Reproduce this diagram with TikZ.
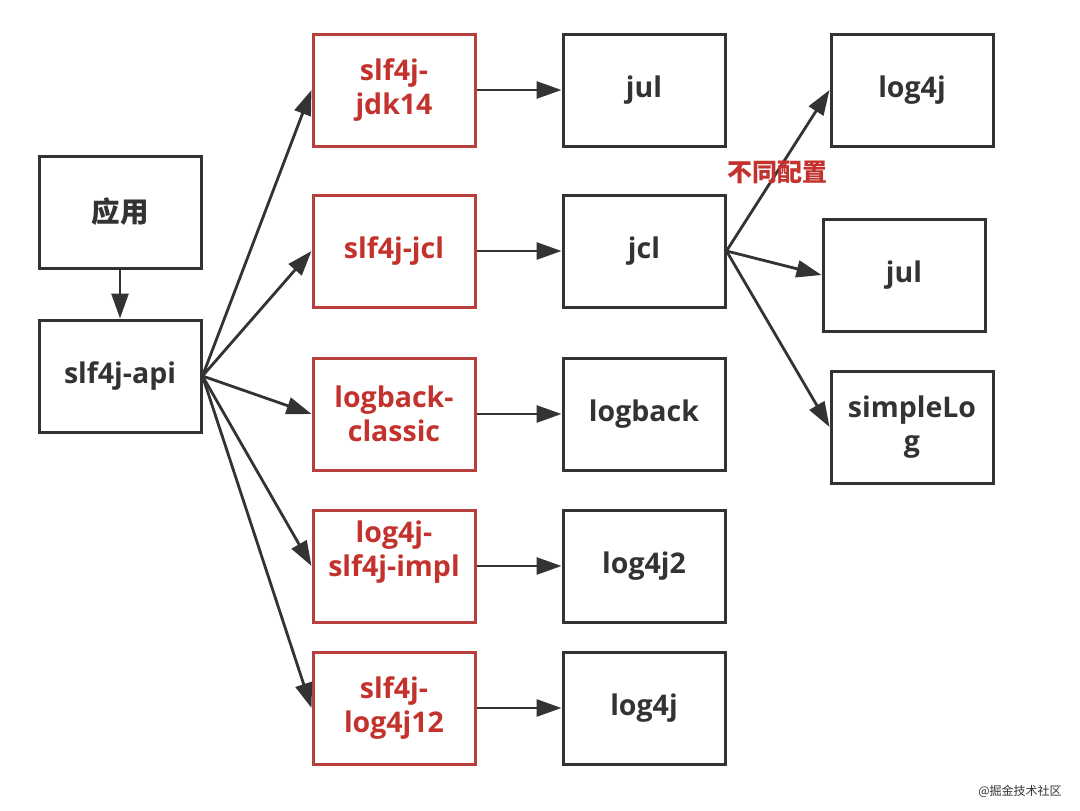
\documentclass[tikz,border=0pt]{standalone}
\usepackage{fontspec}
\setmainfont{Open Sans}
\newfontfamily\cjk{Noto Sans CJK SC}
\usepackage{xcolor}
\usepackage{tikz}
\usetikzlibrary{arrows.meta}

\definecolor{ink}{HTML}{333333}
\definecolor{redline}{HTML}{B8403C}
\definecolor{redtext}{HTML}{C3322D}

\tikzset{
  box/.style={rectangle, draw=ink, line width=3pt, minimum width=162pt, minimum height=112pt,
    inner sep=0pt, align=center, font=\fontsize{28.5}{34}\selectfont\bfseries, text=ink},
  redbox/.style={box, draw=redline, text=redtext},
  arr/.style={draw=ink, line width=2.8pt, -{Triangle[length=25pt,width=17pt]}}
}

\begin{document}
\begin{tikzpicture}[x=1pt, y=-1pt]
                            \useasboundingbox[fill=white] (0,0) rectangle (1080,811);
                            % Nodes
                            \node[box] (app) at (120,212) {\cjk\bfseries 应用};
                            \node[box] (api) at (120,376) {slf4j-api};
                            \foreach \n/\j/\k/\t in {jdk/394/90/{slf4j-\\jdk14}, jclb/394/251/{slf4j-jcl},
                                lbc/394/414/{logback-\\classic}, impl/394/566/{log4j-\\slf4j-impl\\~},
                                ltw/394/708/{slf4j-\\log4j12}} {
                              \node[redbox] (\n) at (\j,\k) {\t};
                            }
                            \foreach \n/\j/\k/\t in {jul/644/90/jul, jcl/644/251/jcl, lb/644/414/logback,
                                lfjt/644/566/log4j2, lfj/644/708/log4j, rlfj/912/90/log4j,
                                rjul/904/275/jul, simple/912/427/{simpleLo\\g}} {
                              \node[box] (\n) at (\j,\k) {\t};
                            }
                            % Edges
                            \draw[arr] (app) -- (api);
                            \foreach \i/\j in {jdk/jul, jclb/jcl, lbc/lb, impl/lfjt, ltw/lfj} {
                                \draw[arr] (api.east) -- (\i.west);
                                \draw[arr] (\i.east) -- (\j.west);
                            }
                            \foreach \i in {rlfj, rjul, simple} {
                                \draw[arr] (jcl.east) -- (\i.west);
                            }
                            % Label
                            \node[draw=none, fill=none, text=redtext, font=\cjk\fontsize{25}{28}\selectfont\bfseries] (cfg) at (777,172) {不同配置};
                            \node[draw=none, fill=none, text=ink, font=\cjk\fontsize{12}{14}\selectfont] (mark) at (1020,791) {@掘金技术社区};
                        \end{tikzpicture}
\end{document}
